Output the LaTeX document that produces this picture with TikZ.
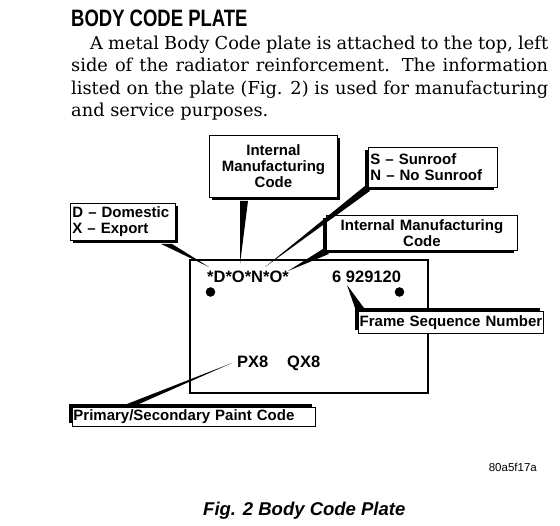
\documentclass[tikz,border=0pt]{standalone}
\usepackage{fontspec}
\setmainfont{DejaVu Serif}
\newfontfamily\lblfont[Ligatures=TeX]{Liberation Sans}
\newfontfamily\headfont[FakeStretch=0.78]{Liberation Sans}
\usetikzlibrary{calc,shadows}

\begin{document}
\begin{tikzpicture}[x=1pt, y=-1pt,
  tagbox/.style={draw, line width=0.9pt, fill=white, inner xsep=2pt, inner ysep=1pt,
    font=\lblfont\bfseries\fontsize{15}{16}\selectfont},
  shbr/.style={drop shadow={shadow xshift=3pt, shadow yshift=-3pt, opacity=1, fill=black}},
  shbl/.style={drop shadow={shadow xshift=-3pt, shadow yshift=-3pt, opacity=1, fill=black}},
  shtl/.style={drop shadow={shadow xshift=-3pt, shadow yshift=3pt, opacity=1, fill=black}},
  codetxt/.style={anchor=base west, inner sep=0pt, font=\lblfont\bfseries\fontsize{16.5}{18}\selectfont},
  bodyline/.style={anchor=base west, inner sep=0pt, font=\fontsize{17.8}{22}\selectfont},
  hole/.style={circle, fill=black, minimum size=9.6pt, inner sep=0pt},
  leader/.style={fill=black}]

\useasboundingbox (0,0) rectangle (560,526);

% Heading and text
\node[anchor=base west, inner sep=0pt, font=\headfont\bfseries\fontsize{23.7}{26}\selectfont]
  (head) at (71,27) {BODY CODE PLATE};
\node[bodyline] (l1) at (90,50) {\makebox[458pt][s]{A metal Body Code plate is attached to the top, left}};
\node[bodyline] (l2) at (71,72) {\makebox[477pt][s]{side of the radiator reinforcement. The information}};
\node[bodyline] (l3) at (71,94.5) {\makebox[477pt][s]{listed on the plate (Fig. 2) is used for manufacturing}};
\node[bodyline] (l4) at (71,117) {and service purposes.};

% Plate
\node[draw, line width=1.1pt, minimum width=238pt, minimum height=133pt, inner sep=0pt]
  (plate) at (309,326.5) {};
\node[codetxt] (dono) at (207,283) {*D*O*N*O*};
\node[codetxt] (seq) at (332,283) {6 929120};
\node[codetxt] (px) at (237,368) {PX8};
\node[codetxt] (qx) at (287,368) {QX8};
\node[hole] (hole1) at (210.5,292) {};
\node[hole] (hole2) at (399.5,292) {};

% Callouts
\node[tagbox, shbr, anchor=north west, minimum width=105pt, minimum height=37pt,
  text width=101pt, align=left] (dx) at (70,203) {D – Domestic\\X – Export};
\node[tagbox, shbr, anchor=north west, minimum width=128pt, minimum height=62pt,
  text width=124pt, align=center] (imc1) at (209,135) {Internal\\Manufacturing\\Code};
\node[tagbox, shbl, anchor=north west, minimum width=129pt, minimum height=40pt,
  text width=125pt, align=left] (sun) at (368,147) {S – Sunroof\\N – No Sunroof};
\node[tagbox, shbl, anchor=north west, minimum width=191pt, minimum height=35pt,
  text width=187pt, align=center] (imc2) at (326,215) {Internal Manufacturing\\Code};
\node[tagbox, shtl, anchor=north west, minimum width=185pt, minimum height=22pt,
  text width=183pt, inner xsep=1pt, align=center] (frame) at (358,311) {Frame Sequence Number};
\node[tagbox, shtl, anchor=north west, minimum width=243pt, minimum height=19pt,
  text width=241pt, inner xsep=1pt, align=left] (paint) at (72,407) {Primary/Secondary Paint Code};

% Leader tips
\coordinate (tA) at (209,267);
\coordinate (tB) at (240,264);
\coordinate (tC) at (265,267);
\coordinate (tD) at (288,271);
\coordinate (tE) at (347,285);
\coordinate (tF) at (232,363);

% Leaders
\fill[leader] ($(dx.south east)+(-15,3)$) -- ($(dx.south east)+(-4,3)$) -- (tA) -- cycle;
\fill[leader] ($(imc1.south west)+(31,3)$) -- ($(imc1.south west)+(39,3)$) -- (tB) -- cycle;
\fill[leader] ($(sun.south west)+(-3,-2)$) -- ($(sun.south west)+(2,3)$) -- (tC) -- cycle;
\fill[leader] ($(imc2.south west)+(-3,-2)$) -- ($(imc2.south west)+(3,3)$) -- (tD) -- cycle;
\fill[leader] ($(frame.north west)+(-3,-3)$) -- ($(frame.north west)+(6,-3)$) -- (tE) -- cycle;
\fill[leader] ($(paint.north west)+(55,-3)$) -- ($(paint.north west)+(67,-3)$) -- (tF) -- cycle;

% Caption
\node[anchor=base east, inner sep=0pt, font=\lblfont\fontsize{11.5}{13}\selectfont]
  (ref) at (537,472) {80a5f17a};
\node[anchor=base west, inner sep=0pt, font=\lblfont\bfseries\itshape\fontsize{18.5}{20}\selectfont]
  (cap) at (203,515) {Fig. 2 Body Code Plate};

\end{tikzpicture}
\end{document}
